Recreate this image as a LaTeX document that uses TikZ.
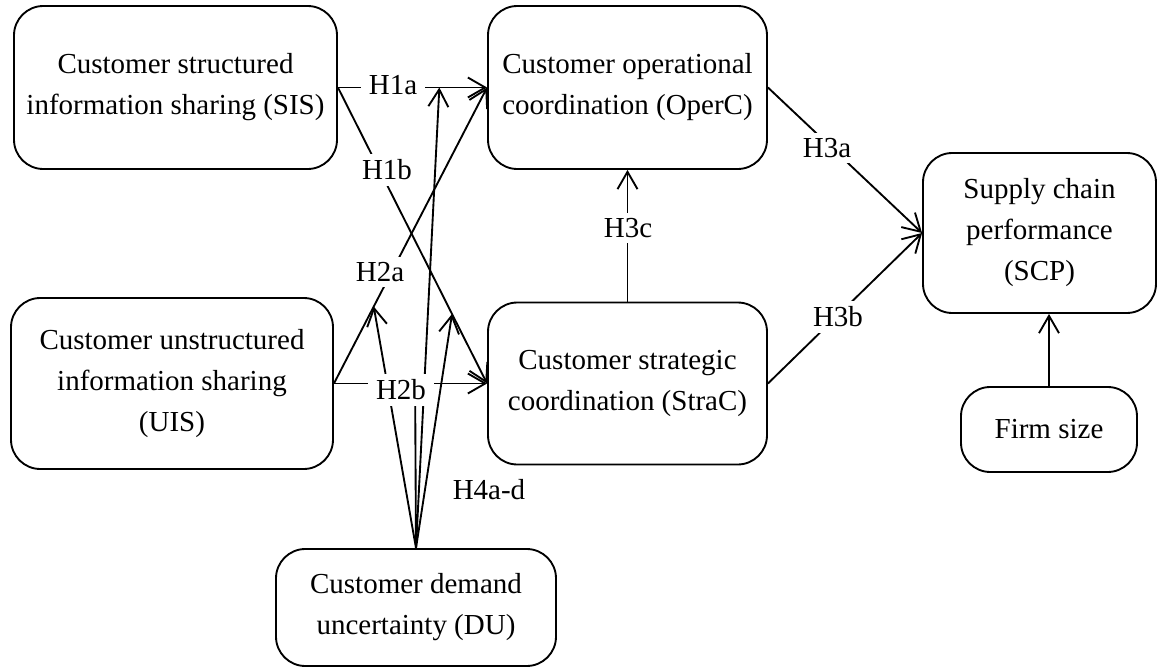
\documentclass[tikz,border=0pt]{standalone}
\usepackage{fontspec}
\setmainfont{Liberation Serif}
\usetikzlibrary{arrows.meta}
\begin{document}
\begin{tikzpicture}[x=0.75pt,y=-0.75pt,
  font=\fontsize{21.75}{30.75}\selectfont,
  box/.style={draw, line width=1.4pt, rounded corners=22pt, align=center, inner sep=0pt},
  conn/.style={line width=1.4pt, -{Straight Barb[length=13pt,width=15pt]}},
  plain/.style={line width=1.4pt},
  lbl/.style={fill=white, inner xsep=6pt, inner ysep=4pt}]
\useasboundingbox (0,0) rectangle (1158,668);

% constructs
\node[box, minimum width=242.25pt, minimum height=122.25pt] (SIS) at (175.5,87.5)
  {Customer structured\\information sharing (SIS)};
\node[box, minimum width=241.5pt, minimum height=128.25pt] (UIS) at (172,383.5)
  {Customer unstructured\\information sharing\\(UIS)};
\node[box, minimum width=209.25pt, minimum height=122.25pt] (OperC) at (627.5,87.5)
  {Customer operational\\coordination (OperC)};
\node[box, minimum width=209.25pt, minimum height=121.5pt] (StraC) at (627.5,383.5)
  {Customer strategic\\coordination (StraC)};
\node[box, minimum width=174.75pt, minimum height=120pt] (SCP) at (1039.5,233)
  {Supply chain\\performance\\(SCP)};
\node[box, minimum width=132pt, minimum height=63.75pt] (Firm) at (1049,429.5)
  {Firm size};
\node[box, minimum width=210pt, minimum height=87.75pt] (DU) at (416,607.5)
  {Customer demand\\uncertainty (DU)};

% direct effects
\draw[conn] (SIS.east) -- (OperC.west);
\draw[conn] (SIS.east) -- (StraC.west);
\draw[conn] (UIS.east) -- (OperC.west);
\draw[conn] (UIS.east) -- (StraC.west);
\draw[conn] (OperC.east) -- (SCP.west);
\draw[conn] (StraC.east) -- (SCP.west);
\draw[conn] (StraC.north) -- (OperC.south);
\draw[conn] (Firm.north) -- (Firm.north |- SCP.south);

% points on the moderated paths
\path (SIS.east) -- (OperC.west) coordinate[pos=0.68] (m1a);
\path (SIS.east) -- (StraC.west) coordinate[pos=0.765] (m1b);
\path (UIS.east) -- (OperC.west) coordinate[pos=0.26] (m2a);
\path (UIS.east) -- (StraC.west) coordinate[pos=0.53] (m2b);

% moderation by demand uncertainty
\draw[conn] (DU.north) -- (m1a);
\draw[conn] (DU.north) -- (m1b);
\draw[conn] (DU.north) -- (m2a);
\draw[conn] (DU.north) -- (m2b);

% hypothesis labels
\node[lbl] (lH1a) at (393,85) {H1a};
\node[lbl] (lH1b) at (387,170) {H1b};
\node[lbl] (lH2a) at (380,272) {H2a};
\node[lbl] (lH2b) at (401,390) {H2b};
\node[lbl] (lH3a) at (827,148) {H3a};
\node[lbl] (lH3b) at (838,317) {H3b};
\node[lbl] (lH3c) at (628,228) {H3c};
\node (lH4) at (489,490) {H4a-d};
\end{tikzpicture}
\end{document}
